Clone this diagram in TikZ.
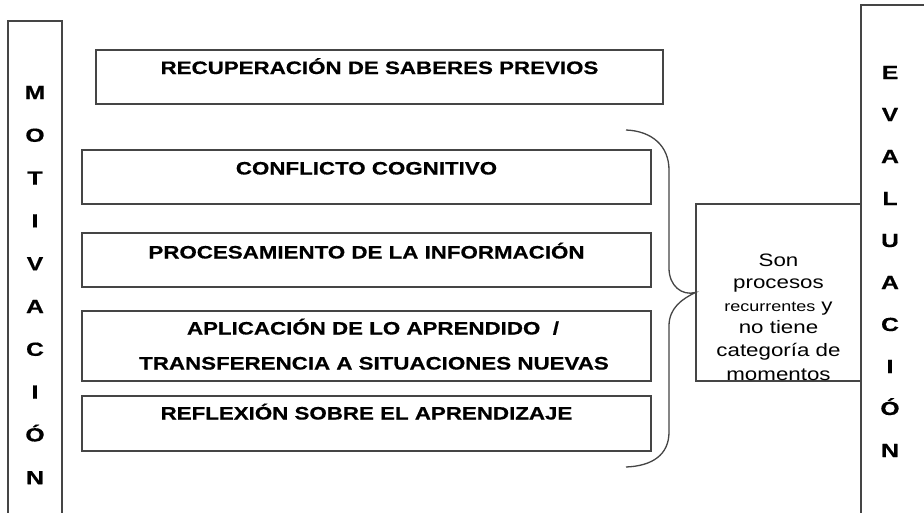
\documentclass[tikz,border=0pt]{standalone}
\usepackage{fontspec}
\setmainfont{Liberation Sans}[BoldFeatures={FakeBold=0.5}]
\usepackage{graphicx}
\newcommand{\stx}[1]{\scalebox{1.24}[1]{#1}}
\newcommand{\stl}[1]{\scalebox{1.3}[1]{#1}}
\definecolor{linegray}{HTML}{454545}
\begin{document}
\begin{tikzpicture}[x=1pt,y=-1pt,
  box/.style={draw=linegray, line width=1.3pt, rectangle, inner sep=0pt},
  boxtxt/.style={font=\fontsize{18}{22}\selectfont\bfseries, anchor=base, inner sep=0pt},
  letter/.style={font=\fontsize{19}{22}\selectfont\bfseries, anchor=base, inner sep=0pt},
  sontxt/.style={font=\fontsize{18}{22}\selectfont, anchor=base, inner sep=0pt},
  bracestyle/.style={draw=linegray, line width=1.3pt}
]
\useasboundingbox (0,0) rectangle (924,512);
\clip (0,0) rectangle (924,512);
\fill[white] (0,0) rectangle (924,512);

% side columns
\node[box, minimum width=54pt, minimum height=519pt] (mot) at (35,280.5) {};
\node[box, minimum width=120pt, minimum height=560pt] (eval) at (921,285) {};

% main boxes
\node[box, minimum width=567pt, minimum height=54pt] (recup) at (379.5,77) {};
\node[box, minimum width=569pt, minimum height=54pt] (conf) at (366.5,177) {};
\node[box, minimum width=569pt, minimum height=54pt] (proc) at (366.5,260) {};
\node[box, minimum width=569pt, minimum height=70pt] (apl) at (366.5,346) {};
\node[box, minimum width=569pt, minimum height=55pt] (refl) at (366.5,423.5) {};

% box texts
\node[boxtxt] (trecup) at (379.5,74) {\stx{RECUPERACIÓN DE SABERES PREVIOS}};
\node[boxtxt] (tconf) at (366.5,174.5) {\stx{CONFLICTO COGNITIVO}};
\node[boxtxt] (tproc) at (366.5,258.5) {\stx{PROCESAMIENTO DE LA INFORMACIÓN}};
\node[boxtxt] (tapl1) at (373,334.5) {\stx{APLICACIÓN DE LO APRENDIDO~ /}};
\node[boxtxt] (tapl2) at (374,369.5) {\stx{TRANSFERENCIA A SITUACIONES NUEVAS}};
\node[boxtxt] (trefl) at (366.5,419.5) {\stx{REFLEXIÓN SOBRE EL APRENDIZAJE}};

% MOTIVACION letters
\foreach \l [count=\i from 0] in {M,O,T,I,V,A,C,I,Ó,N} {
  \node[letter] (m\i) at (35,{99+42.8*\i}) {\stl{\l}};
}
% EVALUACION letters
\foreach \l [count=\i from 0] in {E,V,A,L,U,A,C,I,Ó,N} {
  \node[letter] (e\i) at (890,{79+42*\i}) {\stl{\l}};
}

% Son box
\node[box, minimum width=165pt, minimum height=177pt] (son) at (778.5,292.5) {};
\begin{scope}
  \clip (son.north west) rectangle ([yshift=-5.5pt]son.south east);
  \node[sontxt] (s1) at (778.5,266) {\stx{Son}};
  \node[sontxt] (s2) at (778.5,288) {\stx{procesos}};
  \node[sontxt] (s3) at (778.5,311) {\stx{{\fontsize{14.5}{18}\selectfont recurrentes} y}};
  \node[sontxt] (s4) at (778.5,333) {\stx{no tiene}};
  \node[sontxt] (s5) at (778.5,356.5) {\stx{categoría de}};
  \node[sontxt] (s6) at (778.5,380.5) {\stx{momentos}};
\end{scope}

% brace pointing to Son box
\draw[bracestyle] (626,130) .. controls (652,131) and (669,146) .. (669,170)
  -- (669,268) .. controls (669,286) and (682,296) .. (son.west)
  .. controls (682,299) and (669,308) .. (669,326)
  -- (669,432) .. controls (669,455) and (652,466) .. (626,467);
\end{tikzpicture}
\end{document}
